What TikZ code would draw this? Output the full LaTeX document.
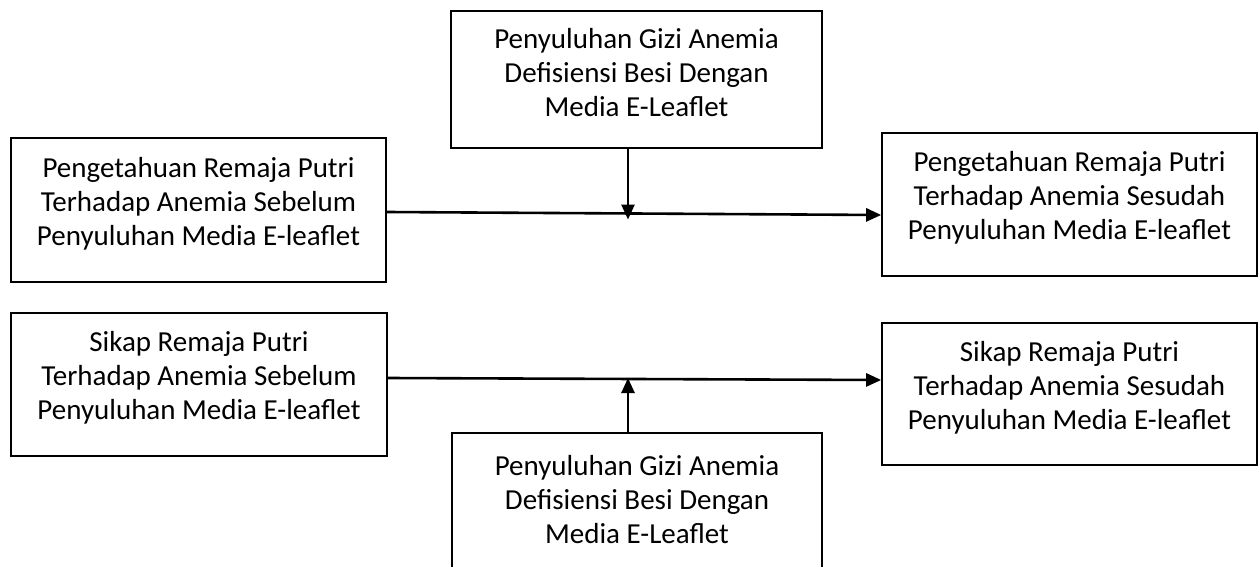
\documentclass[tikz,border=0pt]{standalone}
\usepackage{fontspec}
\setmainfont{Carlito}
\usetikzlibrary{arrows.meta}
\begin{document}
\begin{tikzpicture}[x=1pt,y=-1pt,
  box/.style={draw=black,line width=1.6pt,inner sep=0pt,minimum width=#1},
  txt/.style={align=center,inner sep=0pt,font=\fontsize{29}{34}\selectfont},
  arr/.style={line width=2.6pt,-{Triangle[length=15pt,width=13pt]}}]
\useasboundingbox (0,0) rectangle (1259,567);
\clip (0,0) rectangle (1259,567);
% boxes
\node[box=371pt,minimum height=137pt] (top) at (636.5,79.5) {};
\node[box=375pt,minimum height=144pt] (l1) at (198.5,210) {};
\node[box=375pt,minimum height=143pt] (r1) at (1069.5,204.5) {};
\node[box=376pt,minimum height=143pt] (l2) at (199,384.5) {};
\node[box=375pt,minimum height=142pt] (r2) at (1069.5,394) {};
\node[box=370pt,minimum height=138pt] (bot) at (637,502) {};
% texts
\node[txt] (topt) at (636.5,73) {Penyuluhan Gizi Anemia\\Defisiensi Besi Dengan\\Media E-Leaflet};
\node[txt] (l1t) at (198.5,204) {Pengetahuan Remaja Putri\\Terhadap Anemia Sebelum\\Penyuluhan Media E-leaflet};
\node[txt] (r1t) at (1069.5,198) {Pengetahuan Remaja Putri\\Terhadap Anemia Sesudah\\Penyuluhan Media E-leaflet};
\node[txt] (l2t) at (199,378) {Sikap Remaja Putri\\Terhadap Anemia Sebelum\\Penyuluhan Media E-leaflet};
\node[txt] (r2t) at (1069.5,388) {Sikap Remaja Putri\\Terhadap Anemia Sesudah\\Penyuluhan Media E-leaflet};
\node[txt] (bott) at (637,500) {Penyuluhan Gizi Anemia\\Defisiensi Besi Dengan\\Media E-Leaflet};
% connector points
\coordinate (s1) at (386,212);
\coordinate (e1) at (882,215);
\coordinate (m1) at (628,213.5);
\coordinate (s2) at (387,378);
\coordinate (e2) at (882,380);
\coordinate (m2) at (628,379);
% connectors
\draw[arr] (s1 -| l1.east) -- (e1 -| r1.west);
\draw[arr] (top.south -| m1) -- ([yshift=-6pt]m1);
\draw[arr] (s2 -| l2.east) -- (e2 -| r2.west);
\draw[arr] (bot.north -| m2) -- ([yshift=1pt]m2);
\end{tikzpicture}
\end{document}
